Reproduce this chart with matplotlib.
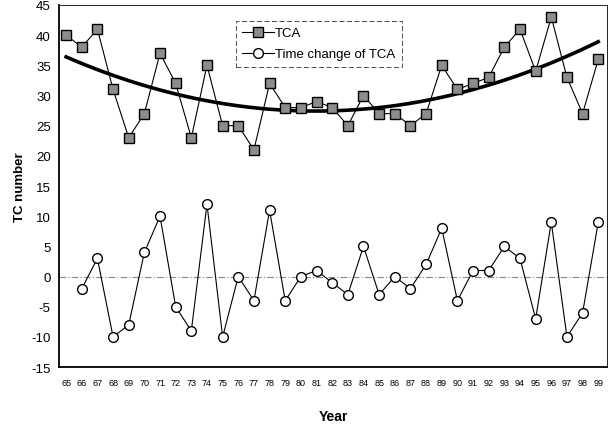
import numpy as np
import matplotlib
matplotlib.use('Agg')
import matplotlib.pyplot as plt

plt.rcParams['font.family'] = ['Liberation Sans', 'DejaVu Sans']
plt.rcParams['axes.unicode_minus'] = False

# data
years = list(range(65, 100))
tca = [40, 38, 41, 31, 23, 27, 37, 32, 23, 35, 25, 25, 21, 32, 28, 28, 29, 28,
       25, 30, 27, 27, 25, 27, 35, 31, 32, 33, 38, 41, 34, 43, 33, 27, 36]
change_years = list(range(66, 100))
tca_change = [-2, 3, -10, -8, 4, 10, -5, -9, 12, -10, 0, -4, 11, -4, 0, 1, -1,
              -3, 5, -3, 0, -2, 2, 8, -4, 1, 1, 5, 3, -7, 9, -10, -6, 9]
year_labels = ['{:02d}'.format(y) for y in years]


def main():
    fig = plt.figure(figsize=(6.09, 4.27), dpi=100)
    ax = fig.add_axes([0.097, 0.138, 0.9, 0.848])

    # polynomial (2nd order) trend of TCA
    coef = np.polyfit(years, tca, 2)
    xs = np.linspace(years[0], years[-1], 200)
    ax.plot(xs, np.polyval(coef, xs), color='black', lw=2.6, zorder=2)

    # zero reference line
    ax.axhline(0, color='#888888', lw=0.8, ls=(0, (6, 2, 1, 2)), zorder=1)

    ax.plot(years, tca, color='black', lw=0.8, marker='s', ms=6.5,
            mfc='#8c8c8c', mec='black', mew=1.0, label='TCA', zorder=3)
    ax.plot(change_years, tca_change, color='black', lw=0.8, marker='o', ms=7,
            mfc='white', mec='black', mew=1.0, label='Time change of TCA', zorder=3)

    ax.set_xlim(64.55, 99.57)
    ax.set_ylim(-15, 45)
    ax.set_yticks(range(-15, 46, 5))
    ax.set_xticks(years)
    ax.set_xticklabels(year_labels, fontsize=6.5)
    ax.tick_params(axis='y', labelsize=9.5, length=0, pad=6)
    ax.tick_params(axis='x', length=0, pad=8)

    for side in ['top', 'right']:
        ax.spines[side].set_linewidth(0.6)
    for side in ['left', 'bottom']:
        ax.spines[side].set_linewidth(1.3)

    ax.set_ylabel('TC number', fontsize=9.5, fontweight='bold', labelpad=4)
    ax.set_xlabel('Year', fontsize=10, fontweight='bold', labelpad=16)

    leg = ax.legend(loc='upper left', bbox_to_anchor=(0.31, 0.975), fontsize=9.5,
                    frameon=True, fancybox=False, handlelength=2.4,
                    borderpad=0.5, labelspacing=0.65, handletextpad=0.1)
    leg.get_frame().set_edgecolor('black')
    leg.get_frame().set_linewidth(0.6)
    leg.get_frame().set_linestyle((0, (6, 3)))

    fig.savefig('out.png', dpi=100)


if __name__ == '__main__':
    main()
